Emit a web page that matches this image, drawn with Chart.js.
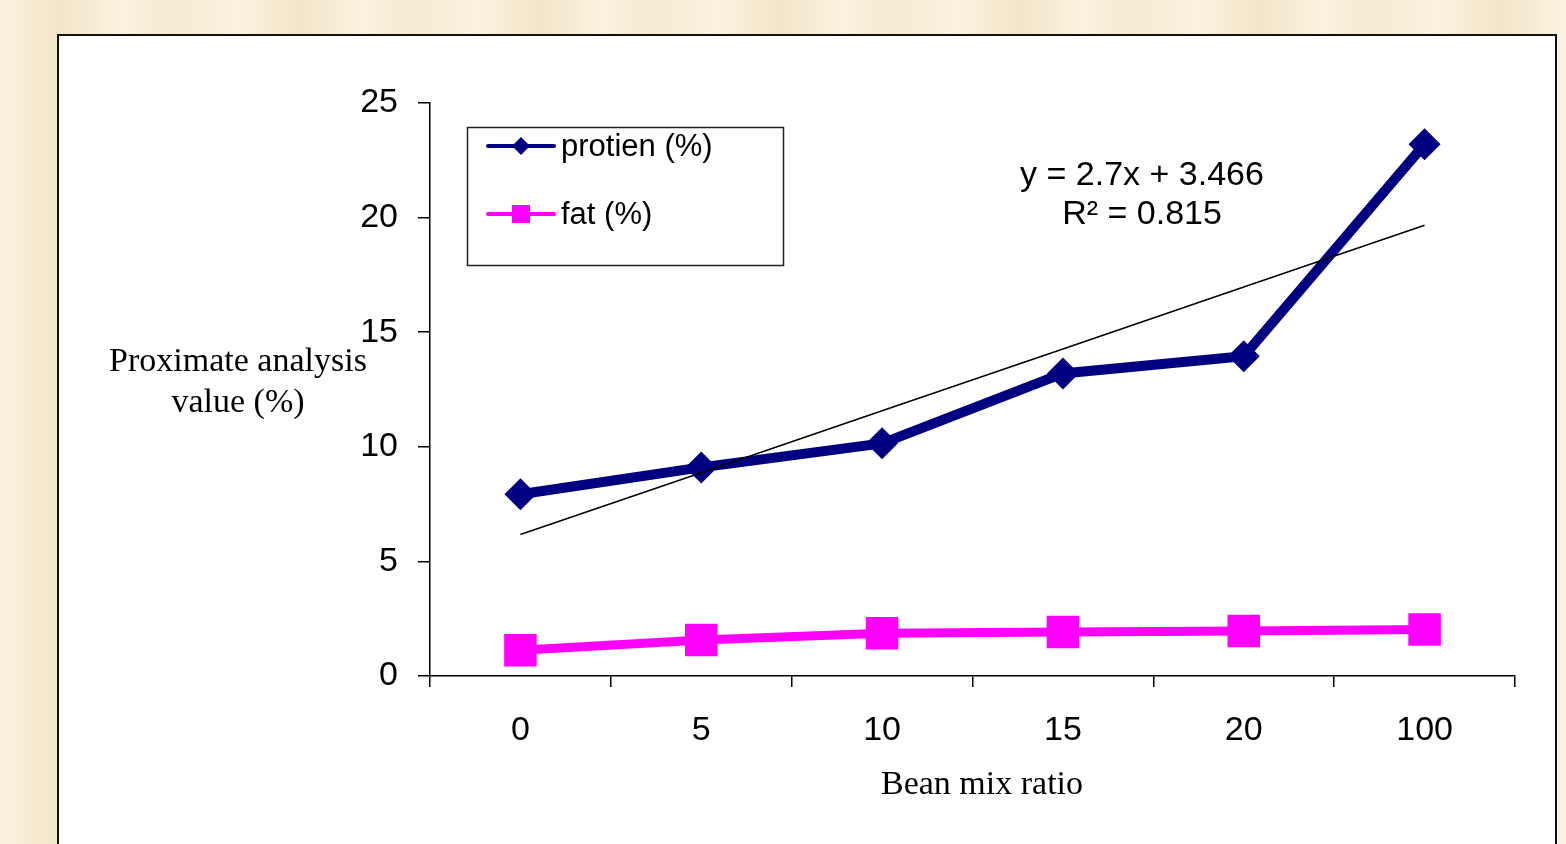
<!DOCTYPE html>
<html>
<head>
<meta charset="utf-8">
<script src="https://cdn.jsdelivr.net/npm/chart.js@4.4.1/dist/chart.umd.min.js"></script>
<style>
  html, body { margin: 0; padding: 0; }
  body {
    width: 1566px; height: 844px; overflow: hidden; position: relative;
    background: repeating-linear-gradient(90deg, #faf2e0 0px, #f3e6c8 60px, #faf2e0 120px, #f6ebd2 170px, #faf2e0 240px);
  }
  #frame {
    position: absolute; left: 57px; top: 34px; width: 1496px; height: 830px;
    background: #fff; border: 2px solid #111;
  }
  #wrap { position: absolute; left: 0; top: 0; width: 1566px; height: 844px; }
</style>
</head>
<body>
<div id="frame"></div>
<div id="wrap"><canvas id="myChart" width="1566" height="844"></canvas></div>
<script>
const mixRatios = ['0', '5', '10', '15', '20', '100'];
const protienValues = [7.93, 9.1, 10.15, 13.2, 13.95, 23.2];
const fatValues = [1.12, 1.57, 1.87, 1.92, 1.96, 2.03];
// linear trendline of protien
const trendValues = [6.17, 8.87, 11.57, 14.27, 16.97, 19.67];
const yTicks = [0, 5, 10, 15, 20, 25];

const sansFont = 'Arial, "Liberation Sans", sans-serif';
const serifFont = '"Times New Roman", "Liberation Serif", serif';

// horizontal y title, x title, equation and the boxed legend
const extrasPlugin = {
    id: 'extras',
    afterDraw(chart) {
        const ctx = chart.ctx;
        ctx.save();
        ctx.fillStyle = '#000';
        ctx.textBaseline = 'middle';

        ctx.textAlign = 'center';
        ctx.font = '34px ' + serifFont;
        ctx.fillText('Proximate analysis', 238, 362);
        ctx.fillText('value (%)', 238, 403);
        ctx.fillText('Bean mix ratio', 982, 785);

        ctx.font = '34px ' + sansFont;
        ctx.fillText('y = 2.7x + 3.466', 1142, 176);
        ctx.fillText('R\u00b2 = 0.815', 1142, 215);

        // legend box
        ctx.strokeStyle = '#222';
        ctx.lineWidth = 1.5;
        ctx.strokeRect(467.5, 127.5, 316, 138);

        const items = [
            { label: 'protien (%)', color: '#000080', y: 146, shape: 'diamond' },
            { label: 'fat (%)', color: '#ff00ff', y: 214, shape: 'square' }
        ];
        items.forEach(it => {
            ctx.strokeStyle = it.color;
            ctx.fillStyle = it.color;
            ctx.lineWidth = 4;
            ctx.lineCap = 'round';
            ctx.beginPath();
            ctx.moveTo(488, it.y);
            ctx.lineTo(554, it.y);
            ctx.stroke();
            ctx.beginPath();
            if (it.shape === 'diamond') {
                ctx.moveTo(521, it.y - 9);
                ctx.lineTo(530, it.y);
                ctx.lineTo(521, it.y + 9);
                ctx.lineTo(512, it.y);
                ctx.closePath();
            } else {
                ctx.rect(512, it.y - 9, 18, 18);
            }
            ctx.fill();
            ctx.fillStyle = '#000';
            ctx.textAlign = 'left';
            ctx.font = '31px ' + sansFont;
            ctx.fillText(it.label, 561, it.y + 1);
        });
        ctx.restore();
    }
};

const ctx = document.getElementById('myChart').getContext('2d');
const myChart = new Chart(ctx, {
    type: 'line',
    data: {
        labels: mixRatios,
        datasets: [
            {
                label: 'trend',
                data: trendValues,
                borderColor: '#000',
                borderWidth: 1.6,
                pointRadius: 0,
                order: 0
            },
            {
                label: 'protien (%)',
                data: protienValues,
                borderColor: '#000080',
                backgroundColor: '#000080',
                borderWidth: 10,
                pointStyle: 'rectRot',
                pointRadius: 16,
                pointBorderWidth: 0,
                order: 1
            },
            {
                label: 'fat (%)',
                data: fatValues,
                borderColor: '#ff00ff',
                backgroundColor: '#ff00ff',
                borderWidth: 9,
                pointStyle: 'rect',
                pointRadius: 23,
                pointBorderWidth: 0,
                order: 2
            }
        ]
    },
    options: {
        responsive: false,
        animation: false,
        devicePixelRatio: 1,
        layout: {
            padding: { top: 103, right: 51, left: 0, bottom: 0 }
        },
        scales: {
            x: {
                offset: true,
                afterFit(scale) { scale.height = 168; },
                grid: {
                    offset: true,
                    drawOnChartArea: false,
                    drawTicks: true,
                    tickLength: 11,
                    color: '#000',
                    lineWidth: 1.5
                },
                border: { display: true, color: '#000', width: 1.5 },
                ticks: {
                    color: '#000',
                    padding: 23,
                    font: { family: sansFont, size: 34 }
                }
            },
            y: {
                min: 0,
                max: 25,
                afterFit(scale) { scale.width = 430; },
                afterBuildTicks(scale) { scale.ticks = yTicks.map(v => ({ value: v })); },
                grid: {
                    drawOnChartArea: false,
                    drawTicks: true,
                    tickLength: 12,
                    color: '#000',
                    lineWidth: 1.5
                },
                border: { display: true, color: '#000', width: 1.5 },
                ticks: {
                    color: '#000',
                    padding: 20,
                    font: { family: sansFont, size: 34 }
                }
            }
        },
        plugins: {
            legend: { display: false },
            tooltip: { enabled: false }
        }
    },
    plugins: [extrasPlugin]
});
</script>
</body>
</html>
